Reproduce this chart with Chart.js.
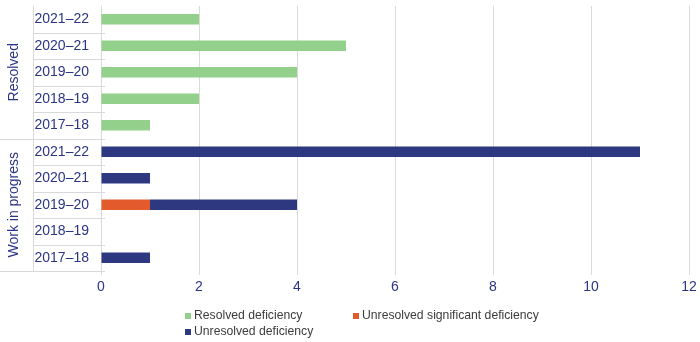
<!DOCTYPE html>
<html>
<head>
<meta charset="utf-8">
<script src="https://cdn.jsdelivr.net/npm/chart.js@4"></script>
<style>
  html, body { margin: 0; padding: 0; background: #fff; }
  #wrap { position: relative; width: 700px; height: 342px; }
  #legend { position: absolute; left: 0; top: 0; font-family: "Liberation Sans", Arial, sans-serif; font-size: 12.2px; color: #3b3b3b; }
  .item { position: absolute; white-space: nowrap; line-height: 14px; }
  .item i { position: absolute; width: 6px; height: 6px; top: 5px; }
  .item span { position: absolute; left: 9px; top: 0; }
</style>
</head>
<body>
<div id="wrap">
  <canvas id="chart" width="700" height="342"></canvas>
  <div id="legend"></div>
</div>
<script>
// data
const groupNames = ["Resolved", "Work in progress"];
const years = ["2021–22", "2020–21", "2019–20", "2018–19", "2017–18"];
const categories = years.concat(years);

const resolvedDeficiency = [2, 5, 4, 2, 1, null, null, null, null, null];
const unresolvedSignificant = [null, null, null, null, null, null, null, 1, null, null];
const unresolvedDeficiency = [null, null, null, null, null, 11, 1, 3, null, 1];

const xTicks = [0, 2, 4, 6, 8, 10, 12];

const navy = "#2b3585";
const lineGrey = "#d9d9d9";

// left-hand group labels and separator lines
const groupPlugin = {
  id: "groups",
  afterDraw(chart) {
    const ctx = chart.ctx;
    const y = chart.scales.y;
    const area = chart.chartArea;
    const half = (y.getPixelForValue(1) - y.getPixelForValue(0)) / 2;
    ctx.save();
    ctx.strokeStyle = lineGrey;
    ctx.lineWidth = 1;
    // vertical divider between group names and years
    ctx.beginPath();
    ctx.moveTo(33.5, area.top);
    ctx.lineTo(33.5, area.bottom);
    ctx.stroke();
    let start = 0;
    groupNames.forEach((name) => {
      const n = years.length;
      for (let i = start; i < start + n; i++) {
        const yy = Math.round(y.getPixelForValue(i) + half) + 0.5;
        const last = i === start + n - 1;
        ctx.beginPath();
        ctx.moveTo(last ? 0 : 33, yy);
        ctx.lineTo(105, yy);
        ctx.stroke();
      }
      const top = y.getPixelForValue(start) - half;
      const bottom = y.getPixelForValue(start + n - 1) + half;
      ctx.save();
      ctx.translate(14, (top + bottom) / 2);
      ctx.rotate(-Math.PI / 2);
      ctx.fillStyle = navy;
      ctx.font = '14px "Liberation Sans", Arial, sans-serif';
      ctx.textAlign = "center";
      ctx.textBaseline = "middle";
      ctx.fillText(name, 0, 0);
      ctx.restore();
      start += n;
    });
    ctx.restore();
  }
};

const chart = new Chart(document.getElementById("chart"), {
  type: "bar",
  data: {
    labels: categories,
    datasets: [
      { label: "Resolved deficiency", data: resolvedDeficiency, backgroundColor: "#93d08c" },
      { label: "Unresolved significant deficiency", data: unresolvedSignificant, backgroundColor: "#e35a2c" },
      { label: "Unresolved deficiency", data: unresolvedDeficiency, backgroundColor: "#2e3880" }
    ]
  },
  options: {
    indexAxis: "y",
    responsive: false,
    animation: false,
    layout: { padding: { top: 6, right: 11, bottom: 0, left: 0 } },
    datasets: { bar: { barPercentage: 0.4, categoryPercentage: 1 } },
    plugins: { legend: { display: false }, tooltip: { enabled: false } },
    scales: {
      x: {
        stacked: true,
        min: 0,
        max: 12,
        afterBuildTicks: (s) => { s.ticks = xTicks.map((v) => ({ value: v })); },
        afterFit: (s) => { s.height = 71; s.paddingLeft = 0; s.paddingRight = 0; },
        grid: { color: lineGrey, tickLength: 4 },
        border: { display: false },
        ticks: { color: navy, padding: 4, font: { family: '"Liberation Sans", Arial, sans-serif', size: 14 } }
      },
      y: {
        stacked: true,
        afterFit: (s) => { s.width = 101; s.paddingTop = 0; s.paddingBottom = 0; },
        grid: { display: false, drawTicks: false },
        border: { display: false },
        ticks: { color: navy, padding: 12, autoSkip: false, font: { family: '"Liberation Sans", Arial, sans-serif', size: 14 } }
      }
    }
  },
  plugins: [groupPlugin]
});

// legend as html, laid out like the reference (two columns)
const legendPos = [[185, 308], [353, 308], [185, 324]];
const legend = document.getElementById("legend");
chart.data.datasets.forEach((ds, i) => {
  const el = document.createElement("div");
  el.className = "item";
  el.style.left = legendPos[i][0] + "px";
  el.style.top = legendPos[i][1] + "px";
  el.innerHTML = '<i style="background:' + ds.backgroundColor + '"></i><span>' + ds.label + "</span>";
  legend.appendChild(el);
});
</script>
</body>
</html>
